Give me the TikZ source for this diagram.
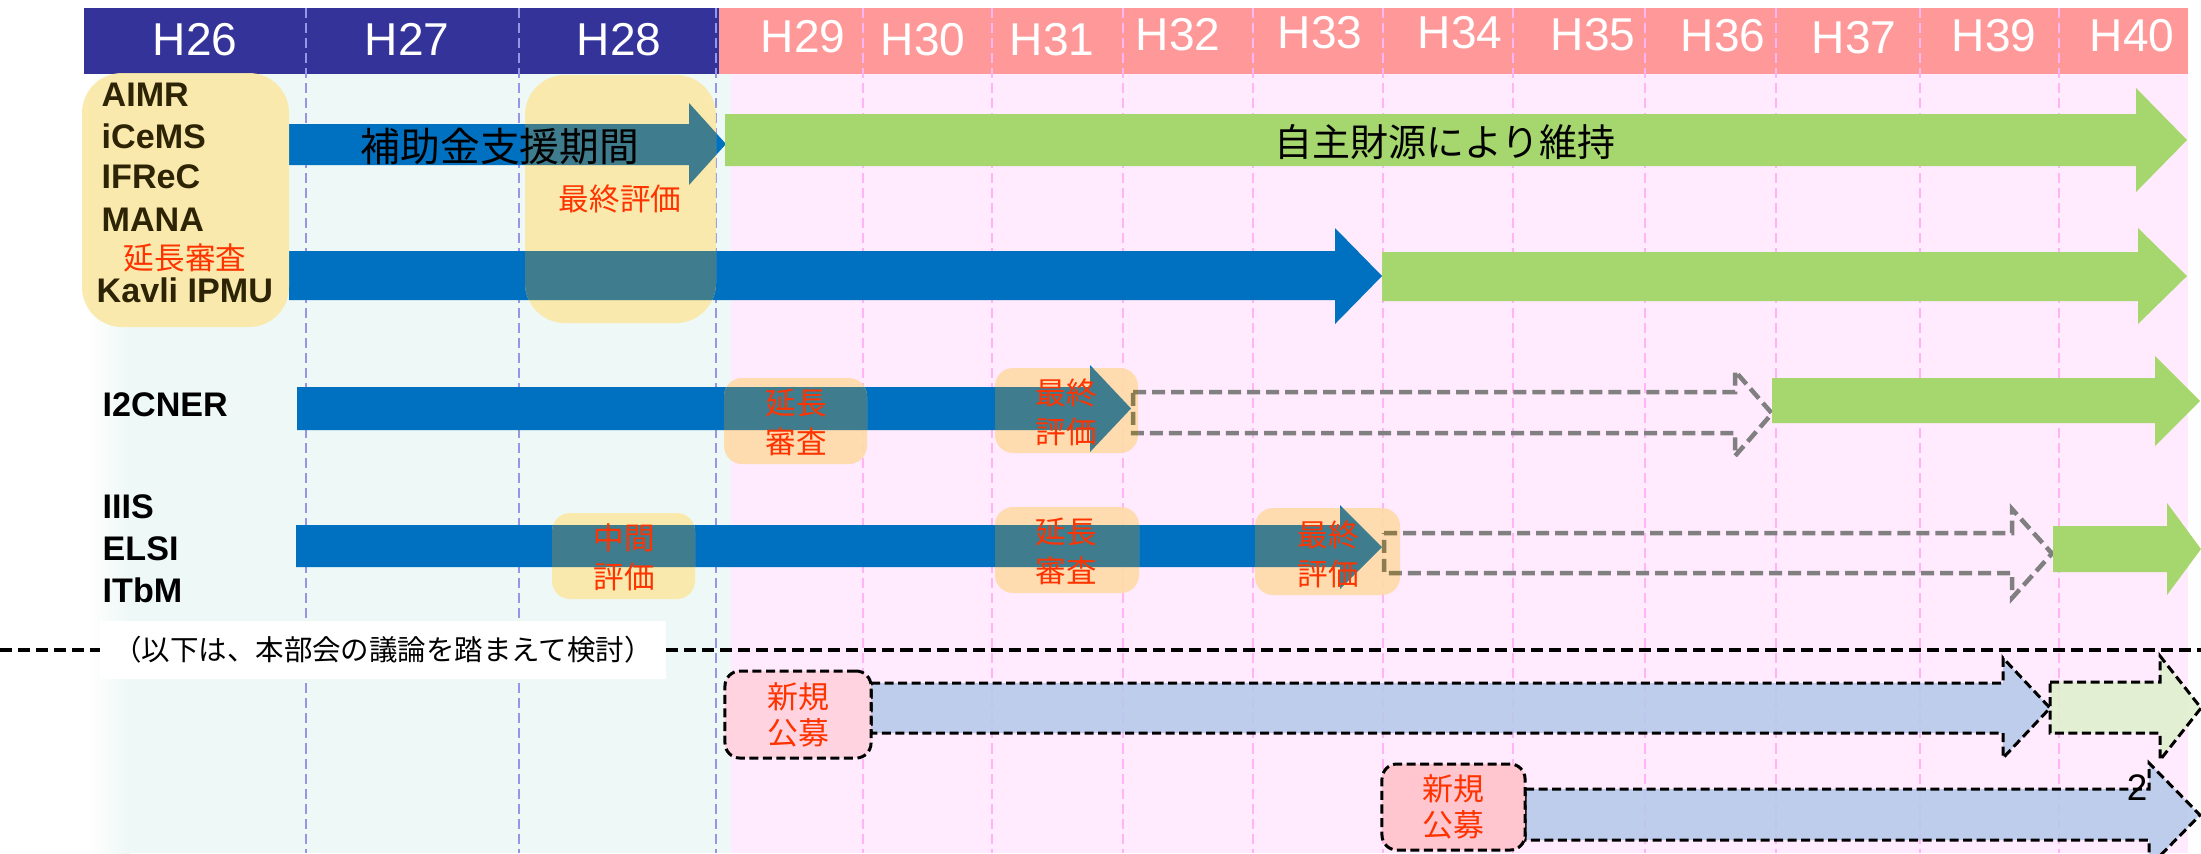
\documentclass[tikz,border=0pt]{standalone}
\usepackage{fontspec}
\setmainfont{Liberation Sans}
\newfontfamily\jp{Noto Sans CJK JP}
\definecolor{hdrblue}{RGB}{51,51,153}
\definecolor{hdrpink}{RGB}{255,153,153}
\definecolor{paleL}{RGB}{238,248,246}
\definecolor{paleR}{RGB}{255,234,254}
\definecolor{vlL}{RGB}{150,150,230}
\definecolor{vlR}{RGB}{255,180,245}
\definecolor{arrblue}{RGB}{0,112,192}
\definecolor{arrgreen}{RGB}{165,215,110}
\definecolor{arrgray}{RGB}{128,128,128}
\definecolor{boxY}{RGB}{250,232,166}
\definecolor{boxO}{RGB}{255,219,170}
\definecolor{ovteal}{RGB}{62,124,142}
\definecolor{ovolive}{RGB}{140,125,80}
\definecolor{myred}{RGB}{255,51,0}
\definecolor{ltblue}{RGB}{180,200,235}
\definecolor{ltgreen}{RGB}{224,240,207}
\definecolor{pinkA}{RGB}{255,212,224}
\definecolor{pinkB}{RGB}{255,198,208}
\definecolor{dkbrown}{RGB}{45,35,5}
\newcommand\myarrow[8]{%
  \path[#1] (#2,#5) -- (#3,#5) -- (#3,#7) -- (#4,{(#7+#8)/2}) -- (#3,#8) -- (#3,#6) -- (#2,#6) -- cycle;}
\begin{document}
\begin{tikzpicture}[x=0.01cm,y=-0.01cm,
  hdr/.style={text=white,font=\fontsize{13.1}{15}\selectfont,inner sep=0,anchor=base},
  lbl/.style={font=\bfseries\fontsize{9.7}{11}\selectfont,inner sep=0,anchor=base west},
  bluearr/.style={fill=arrblue},
  greenarr/.style={fill=arrgreen},
  grayarr/.style={draw=arrgray,line width=0.045cm,dash pattern=on 0.13cm off 0.06cm},
  tealarr/.style={fill=ovteal},
  olivearr/.style={draw=ovolive,line width=0.045cm,dash pattern=on 0.13cm off 0.06cm},
  newarrB/.style={fill=ltblue,fill opacity=0.85,draw=black,line width=0.03cm,dash pattern=on 0.09cm off 0.045cm},
  newarrG/.style={fill=ltgreen,fill opacity=0.9,draw=black,line width=0.03cm,dash pattern=on 0.09cm off 0.045cm},
  vlineL/.style={draw=vlL,line width=0.015cm,dash pattern=on 0.1cm off 0.05cm},
  vlineR/.style={draw=vlR,line width=0.015cm,dash pattern=on 0.1cm off 0.05cm},
  ybox/.style={fill=boxY,fill opacity=0.92},
  obox/.style={fill=boxO,fill opacity=0.92},
  redlbl/.style={text=myred,font=\jp\fontsize{8.7}{11.1}\selectfont,align=center,inner sep=0},
  bigtxt/.style={font=\jp\fontsize{11.3}{13}\selectfont,inner sep=0},
  newbox/.style={draw=black,line width=0.03cm,dash pattern=on 0.09cm off 0.045cm,rounded corners=0.15cm,
    text=myred,font=\jp\fontsize{8.8}{10.2}\selectfont,align=center,inner sep=0}
]
\useasboundingbox (0,0) rectangle (2201,853);
\clip (0,0) rectangle (2201,853);
% header bars
\fill[hdrblue] (84,8) rectangle (719,74);
\fill[hdrpink] (719,8) rectangle (2188,74);
% background panels
\shade[left color=white,right color=paleL] (88,74) rectangle (130,853);
\fill[paleL] (129.5,74) rectangle (731,853);
\fill[paleR] (731,74) rectangle (2188,853);
% year grid lines
\foreach \x in {306,519,716} \draw[vlineL] (\x,8) -- (\x,853);
\foreach \x in {863,992,1123,1253,1383,1513,1645,1776,1920,2059} \draw[vlineR] (\x,8) -- (\x,853);
% header labels
\node[hdr] (h26) at (195,55) {H26};
\node[hdr] (h27) at (407,55) {H27};
\node[hdr] (h28) at (619,55) {H28};
\node[hdr] (h29) at (803,52) {H29};
\node[hdr] (h30) at (923,55) {H30};
\node[hdr] (h31) at (1052,55) {H31};
\node[hdr] (h32) at (1178,50) {H32};
\node[hdr] (h33) at (1320,48) {H33};
\node[hdr] (h34) at (1460,48) {H34};
\node[hdr] (h35) at (1593,50) {H35};
\node[hdr] (h36) at (1723,51) {H36};
\node[hdr] (h37) at (1854,53) {H37};
\node[hdr] (h39) at (1994,51) {H39};
\node[hdr] (h40) at (2132,51) {H40};
% arrows
\myarrow{bluearr}{289}{689}{726}{124}{165}{103}{185}
\myarrow{greenarr}{725}{2136}{2187}{114}{166}{88}{192}
\myarrow{bluearr}{289}{1335}{1382}{251}{300}{228}{324}
\myarrow{greenarr}{1382}{2138}{2187}{252}{301}{228}{324}
\myarrow{bluearr}{297}{1090}{1131}{387}{430}{365}{452}
\myarrow{grayarr}{1133}{1735}{1772}{392}{433}{371}{456}
\myarrow{greenarr}{1772}{2155}{2200}{378}{423}{356}{446}
\myarrow{bluearr}{296}{1340}{1382}{525}{567}{505}{589}
\myarrow{grayarr}{1384}{2012}{2052}{533}{573}{509}{598}
\myarrow{greenarr}{2053}{2167}{2201}{526}{572}{503}{595}
% evaluation boxes
\fill[ybox,rounded corners=0.4cm] (82,73) rectangle (289,327);
\fill[ybox,rounded corners=0.4cm] (525,75) rectangle (716,323);
\fill[ybox,rounded corners=0.18cm] (552,513) rectangle (695,599);
\fill[obox,rounded corners=0.18cm] (724,378) rectangle (867,464);
\fill[obox,rounded corners=0.18cm] (995,368) rectangle (1138,453);
\fill[obox,rounded corners=0.18cm] (995,507) rectangle (1139,593);
\fill[obox,rounded corners=0.18cm] (1255,508) rectangle (1400,595);
% arrows seen through the boxes
\begin{scope}
\clip[rounded corners=0.4cm] (525,75) rectangle (716,323);
\myarrow{tealarr}{289}{689}{726}{124}{165}{103}{185}
\myarrow{tealarr}{289}{1335}{1382}{251}{300}{228}{324}
\end{scope}
\begin{scope}
\clip[rounded corners=0.18cm] (552,513) rectangle (695,599);
\myarrow{tealarr}{296}{1340}{1382}{525}{567}{505}{589}
\end{scope}
\begin{scope}
\clip[rounded corners=0.18cm] (724,378) rectangle (867,464);
\myarrow{tealarr}{297}{1090}{1131}{387}{430}{365}{452}
\end{scope}
\begin{scope}
\clip[rounded corners=0.18cm] (995,368) rectangle (1138,453);
\myarrow{tealarr}{297}{1090}{1131}{387}{430}{365}{452}
\myarrow{olivearr}{1133}{1735}{1772}{392}{433}{371}{456}
\end{scope}
\begin{scope}
\clip[rounded corners=0.18cm] (995,507) rectangle (1139,593);
\myarrow{tealarr}{296}{1340}{1382}{525}{567}{505}{589}
\end{scope}
\begin{scope}
\clip[rounded corners=0.18cm] (1255,508) rectangle (1400,595);
\myarrow{tealarr}{296}{1340}{1382}{525}{567}{505}{589}
\myarrow{olivearr}{1384}{2012}{2052}{533}{573}{509}{598}
\end{scope}
% arrow texts
\node[bigtxt] (hojo) at (500,146) {補助金支援期間};
\node[bigtxt,font=\jp\fontsize{10.8}{13}\selectfont] (jishu) at (1445,142) {自主財源により維持};
% institute labels
\node[lbl,text=dkbrown] (aimr) at (101,106) {AIMR};
\node[lbl,text=dkbrown] (icems) at (101,148) {iCeMS};
\node[lbl,text=dkbrown] (ifrec) at (101,188) {IFReC};
\node[lbl,text=dkbrown] (mana) at (101,231) {MANA};
\node[lbl,text=dkbrown] (kavli) at (96,302) {Kavli IPMU};
\node[lbl] (i2cner) at (102,416) {I2CNER};
\node[lbl] (iiis) at (102,518) {IIIS};
\node[lbl] (elsi) at (102,560) {ELSI};
\node[lbl] (itbm) at (102,602) {ITbM};
% red labels
\node[redlbl] (enchoA) at (185,258) {延長審査};
\node[redlbl] (saishuA) at (620,199) {最終評価};
\node[redlbl] (enchoB) at (796,422) {延長\\審査};
\node[redlbl] (saishuB) at (1066,412) {最終\\評価};
\node[redlbl] (chukan) at (624,557) {中間\\評価};
\node[redlbl] (enchoC) at (1066,551) {延長\\審査};
\node[redlbl] (saishuC) at (1328,554) {最終\\評価};
% separator
\coordinate (sepL) at (0,650);
\coordinate (sepR) at (2201,650);
\draw[line width=0.04cm,dash pattern=on 0.12cm off 0.06cm] (sepL) -- (sepR);
\node[fill=white,minimum width=5.66cm,minimum height=0.58cm,inner sep=0,
  font=\jp\fontsize{8.1}{10}\selectfont] (sepnote) at (383,650) {（以下は、本部会の議論を踏まえて検討）};
% new calls
\myarrow{newarrB}{871}{2003}{2050}{683}{733}{658}{758}
\myarrow{newarrG}{2050}{2160}{2201}{682}{733}{656}{760}
\myarrow{newarrB}{1525}{2149}{2200}{789}{840}{763}{867}
\node[newbox,fill=pinkA,minimum width=1.46cm,minimum height=0.87cm] (newA) at (798,714.5) {新規\\公募};
\node[newbox,fill=pinkB,minimum width=1.43cm,minimum height=0.86cm] (newB) at (1453.5,807) {新規\\公募};
% page number
\node[font=\fontsize{10.5}{12}\selectfont,inner sep=0,anchor=base] (pg) at (2137,800) {2};
\end{tikzpicture}
\end{document}
